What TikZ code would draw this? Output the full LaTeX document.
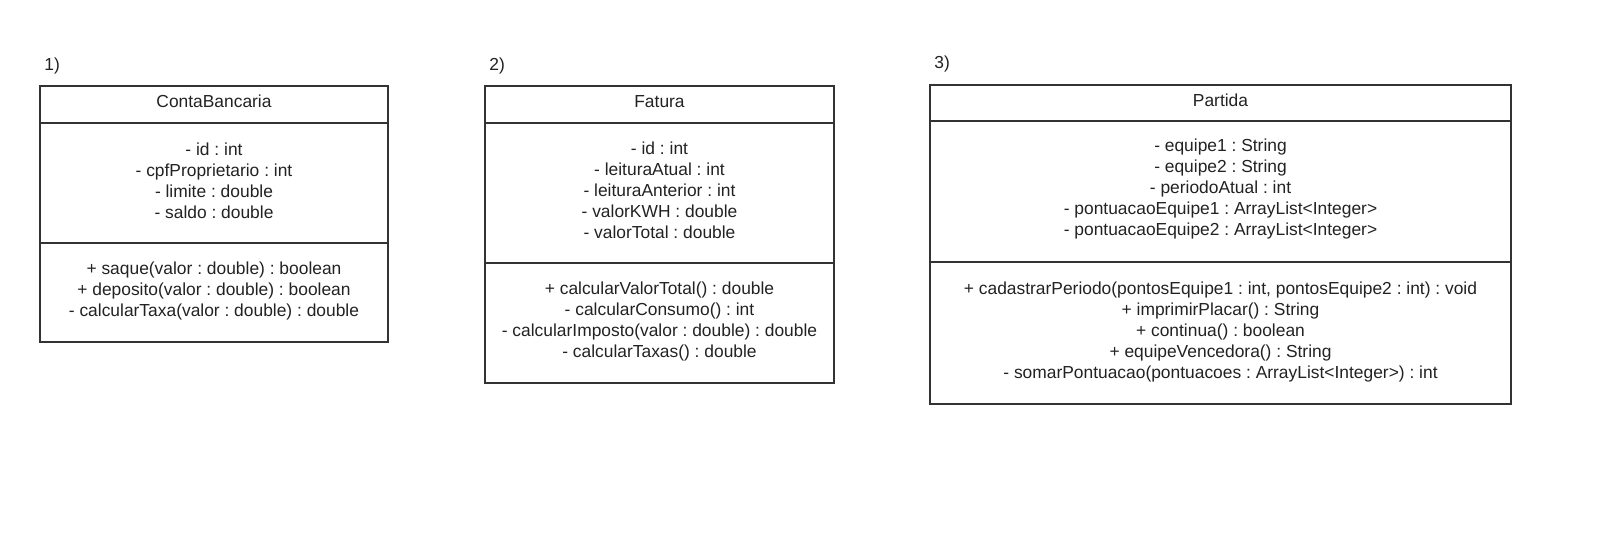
\documentclass[tikz,border=0pt]{standalone}
\usepackage{fontspec}
\setmainfont{Liberation Sans}
\definecolor{linec}{HTML}{333333}
\definecolor{txtc}{HTML}{222222}
\begin{document}
\frenchspacing
\begin{tikzpicture}[x=0.5pt,y=-0.5pt,
  comp/.style={draw=linec, line width=1pt, inner sep=0pt, anchor=north west},
  txt/.style={inner sep=0pt, align=center, text=txtc, yshift=1.2pt,
    font=\fontsize{8.7}{10.5}\selectfont},
  numlabel/.style={inner sep=0pt, anchor=west, text=txtc, font=\fontsize{8.7}{10.5}\selectfont}]
\useasboundingbox (0,0) rectangle (1620,555);
% 1) ContaBancaria
\node[numlabel] (l1) at (44,66) {1)};
\node[comp, minimum width=174pt, minimum height=18.5pt] (t1) at (39,85) {};
\node[comp, minimum width=174pt, minimum height=60pt] (a1) at (39,122) {};
\node[comp, minimum width=174pt, minimum height=49.5pt] (m1) at (39,242) {};
\node[txt, yshift=0.2pt] (t1x) at (t1.center) {ContaBancaria};
\node[txt] (a1x) at (a1.center)
  {- id : int\\- cpfProprietario : int\\- limite : double\\- saldo : double};
\node[txt, yshift=-0.6pt] (m1x) at (m1.center)
  {+ saque(valor : double) : boolean\\+ deposito(valor : double) : boolean\\- calcularTaxa(valor : double) : double};
% 2) Fatura
\node[numlabel] (l2) at (489,66) {2)};
\node[comp, minimum width=174.5pt, minimum height=18.5pt] (t2) at (484,85) {};
\node[comp, minimum width=174.5pt, minimum height=70pt] (a2) at (484,122) {};
\node[comp, minimum width=174.5pt, minimum height=60pt] (m2) at (484,262) {};
\node[txt, yshift=0.2pt] (t2x) at (t2.center) {Fatura};
\node[txt] (a2x) at (a2.center)
  {- id : int\\- leituraAtual : int\\- leituraAnterior : int\\- valorKWH : double\\- valorTotal : double};
\node[txt, yshift=-0.6pt] (m2x) at (m2.center)
  {+ calcularValorTotal() : double\\- calcularConsumo() : int\\- calcularImposto(valor : double) : double\\- calcularTaxas() : double};
% 3) Partida
\node[numlabel] (l3) at (934,64) {3)};
\node[comp, minimum width=290.5pt, minimum height=18pt] (t3) at (929,84) {};
\node[comp, minimum width=290.5pt, minimum height=70.5pt] (a3) at (929,120) {};
\node[comp, minimum width=290.5pt, minimum height=71pt] (m3) at (929,261) {};
\node[txt, yshift=0.2pt] (t3x) at (t3.center) {Partida};
\node[txt] (a3x) at (a3.center)
  {- equipe1 : String\\- equipe2 : String\\- periodoAtual : int\\- pontuacaoEquipe1 : ArrayList<Integer>\\- pontuacaoEquipe2 : ArrayList<Integer>};
\node[txt, yshift=-0.6pt] (m3x) at (m3.center)
  {+ cadastrarPeriodo(pontosEquipe1 : int, pontosEquipe2 : int) : void\\+ imprimirPlacar() : String\\+ continua() : boolean\\+ equipeVencedora() : String\\- somarPontuacao(pontuacoes : ArrayList<Integer>) : int};
\end{tikzpicture}
\end{document}
